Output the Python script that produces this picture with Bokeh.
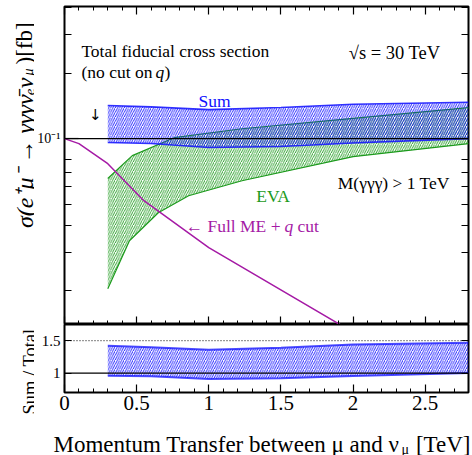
import numpy as np
from bokeh.plotting import figure
from bokeh.layouts import column, row
from bokeh.models import (Range1d, FixedTicker, SingleIntervalTicker, LinearAxis,
                          LogAxis, Label, Span)
from bokeh.embed import file_html
from bokeh.resources import INLINE

# ---------------- data ----------------
total_xsec = 0.1                     # total fiducial cross section [fb]

q_full = [0.0, 0.1, 0.3, 0.55, 1.0, 2.0]
full_me = [0.1, 0.0948, 0.0767, 0.0518, 0.0315, 0.01285]

q_sum = [0.3, 0.6, 1.0, 1.5, 2.0, 2.8]
sum_hi = [0.142, 0.140, 0.136, 0.139, 0.144, 0.147]
sum_lo = [0.0960, 0.0950, 0.0910, 0.0920, 0.0955, 0.1000]

q_eva_hi = [0.3, 0.47, 0.76, 1.23, 2.0, 2.8]
eva_hi = [0.0655, 0.0835, 0.101, 0.111, 0.124, 0.139]
q_eva_lo = [0.3, 0.45, 0.65, 0.86, 1.23, 2.0, 2.8]
eva_lo = [0.0204, 0.0339, 0.0456, 0.0546, 0.064, 0.0826, 0.0948]

x_ticks = [0, 0.5, 1, 1.5, 2, 2.5]
x_tick_labels = ["0", "0.5", "1", "1.5", "2", "2.5"]
ratio_ticks = [1, 1.5]
ratio_tick_labels = ["1", "1.5"]

ratio_hi = [v / total_xsec for v in sum_hi]
ratio_lo = [v / total_xsec for v in sum_lo]

FONT = "Liberation Serif"
BLUE = "#1010ff"
GREEN = "#1c9a1c"
PURPLE = "#a51aa5"
ANN = "17.5px"


def style_axis(ax, major_in, minor_in, label_size=None, standoff=0):
    ax.axis_line_color = None
    ax.major_tick_in = major_in
    ax.major_tick_out = 0
    ax.minor_tick_in = minor_in
    ax.minor_tick_out = 0
    ax.major_tick_line_color = "black"
    ax.minor_tick_line_color = "black"
    ax.major_tick_line_width = 1.2
    ax.minor_tick_line_width = 1
    ax.major_label_text_font = FONT
    ax.major_label_standoff = standoff
    ax.axis_label = None
    if label_size is None:
        ax.major_label_text_font_size = "1px"
        ax.major_label_text_color = None
    else:
        ax.major_label_text_font_size = label_size
        ax.major_label_text_color = "black"


def lab(fig, x, y, text, color="black", size=ANN, align="left",
        baseline="middle", style="normal", font=FONT, **kw):
    fig.add_layout(Label(x=x, y=y, text=text, text_color=color,
                         text_font=font, text_font_size=size,
                         text_align=align, text_baseline=baseline,
                         text_font_style=style, **kw))


def blank(width, height):
    f = figure(width=width, height=height, x_range=Range1d(0, width),
               y_range=Range1d(0, height), output_backend="svg",
               toolbar_location=None, x_axis_location=None,
               y_axis_location=None, min_border=0, frame_align=False,
               title=None)
    f.grid.visible = False
    f.outline_line_color = None
    return f


# ---------------- main panel ----------------
p = figure(width=438, height=324, x_range=Range1d(0, 2.8),
           y_range=Range1d(0.01395, 0.4055), y_axis_type="log",
           output_backend="svg", toolbar_location=None,
           min_border_left=28, min_border_right=4, min_border_top=6,
           min_border_bottom=0)
p.grid.visible = False
p.outline_line_color = "black"
p.outline_line_width = 2

y_ticker = FixedTicker(ticks=[0.1], minor_ticks=[0.02, 0.03, 0.04, 0.05, 0.06,
                                                  0.07, 0.08, 0.2, 0.3, 0.4])
x_ticker = SingleIntervalTicker(interval=0.5, num_minor_ticks=5)

p.yaxis.ticker = y_ticker
p.yaxis.major_label_overrides = {0.1: "10⁻¹"}
style_axis(p.yaxis[0], 14, 7, "14px", 4)
p.xaxis.ticker = x_ticker
style_axis(p.xaxis[0], 8, 4)

top_ax = LinearAxis(ticker=x_ticker)
style_axis(top_ax, 8, 4)
p.add_layout(top_ax, "above")
right_ax = LogAxis(ticker=y_ticker)
style_axis(right_ax, 14, 7)
p.add_layout(right_ax, "right")

# EVA band
p.patch(q_eva_hi + q_eva_lo[::-1], eva_hi + eva_lo[::-1], fill_color=None,
        line_color=None, hatch_pattern="/", hatch_color=GREEN,
        hatch_scale=4.5, hatch_weight=0.9)
p.line(q_eva_hi, eva_hi, line_color=GREEN, line_width=1.2)
p.line(q_eva_lo, eva_lo, line_color=GREEN, line_width=1.2)

# Sum band
p.patch(q_sum + q_sum[::-1], sum_hi + sum_lo[::-1], fill_color=None,
        line_color=None, hatch_pattern="/", hatch_color=BLUE,
        hatch_scale=4.5, hatch_weight=0.9)
p.line(q_sum, sum_hi, line_color=BLUE, line_width=1.6, line_alpha=0.85)
p.line(q_sum, sum_lo, line_color=BLUE, line_width=1.6, line_alpha=0.85)

# total line
p.add_layout(Span(location=total_xsec, dimension="width", line_color="black",
                  line_width=1.3))

# full ME + q cut
p.line(q_full, full_me, line_color=PURPLE, line_width=1.5)

lab(p, 0.117, 0.254, "Total fiducial cross section")
S = dict(x_units="screen", y_units="screen")
lab(p, 17, 253, "(no cut on", **S)
lab(p, 91, 253, "q", style="italic", **S)
lab(p, 100, 253, ")", **S)
lab(p, 1.97, 0.249, "√s = 30 TeV", size="18.5px")
lab(p, 1.04, 0.1496, "Sum", color=BLUE, align="center")
lab(p, 0.213, 0.129, "↓", align="center", font="DejaVu Sans", size="15px")
lab(p, 1.446, 0.0546, "EVA", color=GREEN, align="center")
lab(p, 1.894, 0.0626, "M(γγγ) > 1 TeV")
lab(p, 216, 99, "← Full ME +", color=PURPLE, align="right", **S)
lab(p, 220, 99, "q", color=PURPLE, style="italic", **S)
lab(p, 233, 99, "cut", color=PURPLE, **S)

# ---------------- ratio panel ----------------
r = figure(width=438, height=98, x_range=p.x_range,
           y_range=Range1d(0.70, 1.75), output_backend="svg",
           toolbar_location=None, min_border_left=28, min_border_right=4,
           min_border_top=0, min_border_bottom=30)
r.grid.visible = False
r.outline_line_color = "black"
r.outline_line_width = 2

r.xaxis.ticker = x_ticker
r.xaxis.major_label_overrides = dict(zip(x_ticks, x_tick_labels))
style_axis(r.xaxis[0], 8, 4, "21px", 3)
r_ticker = FixedTicker(ticks=ratio_ticks, minor_ticks=[])
r.yaxis.ticker = r_ticker
r.yaxis.major_label_overrides = dict(zip(ratio_ticks, ratio_tick_labels))
style_axis(r.yaxis[0], 7, 0, "15px", 4)
rr_ax = LinearAxis(ticker=r_ticker)
style_axis(rr_ax, 7, 0)
r.add_layout(rr_ax, "right")

r.patch(q_sum + q_sum[::-1], ratio_hi + ratio_lo[::-1], fill_color=None,
        line_color=None, hatch_pattern="/", hatch_color=BLUE,
        hatch_scale=4.5, hatch_weight=0.9)
r.line(q_sum, ratio_hi, line_color=BLUE, line_width=2, line_alpha=0.75)
r.line(q_sum, ratio_lo, line_color=BLUE, line_width=2, line_alpha=0.75)
r.add_layout(Span(location=1, dimension="width", line_color="black",
                  line_width=1.3))
r.add_layout(Span(location=1.5, dimension="width", line_color="black",
                  line_width=1, line_dash="1 2"))

# ---------------- title strips ----------------
# left strip (page x 0..34): y titles; coordinates are pixels, y upwards
L = blank(34, 455)
R90 = dict(angle=90, angle_units="deg")
lab(L, 24, 378, "σ(e⁺μ⁻ → γγγν̄ₑν", size="24px", align="right",
    baseline="alphabetic", style="italic", **R90)
lab(L, 28, 380, "μ", size="14px", align="left", baseline="alphabetic",
    style="italic", **R90)
lab(L, 24, 391, ")[fb]", size="23px", align="left", baseline="alphabetic",
    **R90)
lab(L, 29, 84, "Sum / Total", size="18.5px", align="center",
    baseline="alphabetic", **R90)

# bottom strip (page x 34..472, y 422..455): x title
XT = blank(438, 33)
lab(XT, 19, 11, "Momentum Transfer between μ and ν", size="23px",
    baseline="alphabetic")
lab(XT, 367, 6, "μ", size="14px", baseline="alphabetic")
lab(XT, 436, 11, "[TeV]", size="23px", align="right", baseline="alphabetic")

layout = row(L, column(p, r, XT, spacing=0), spacing=0)
open("out.html", "w").write(file_html(layout, INLINE))
